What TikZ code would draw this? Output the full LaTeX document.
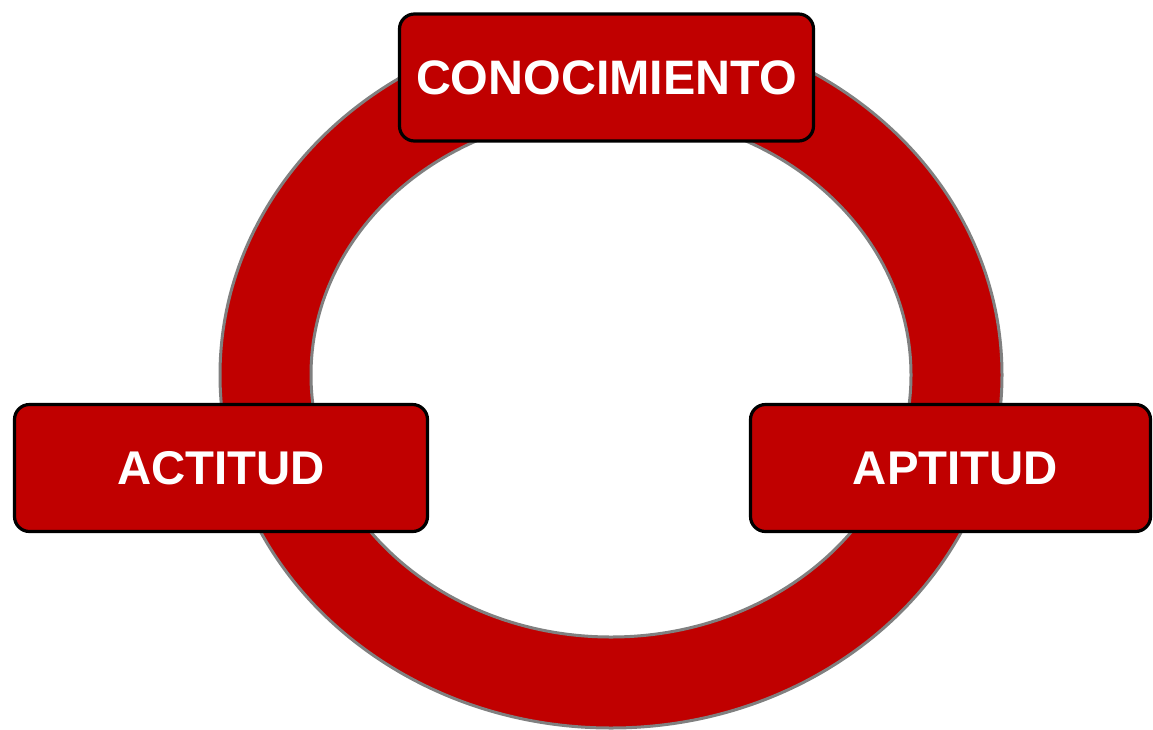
\documentclass[tikz,border=0pt]{standalone}
\usepackage{fontspec}
\setmainfont{Liberation Sans}
\definecolor{ringred}{RGB}{192,0,0}
\definecolor{ringgray}{RGB}{128,128,128}
\tikzset{
  labelbox/.style={draw=black, line width=2.4pt, fill=ringred, rounded corners=11.25pt,
    text=white, font=\fontsize{35.5}{40}\selectfont\bfseries,
    minimum height=95.25pt, inner sep=0pt}
}
\begin{document}
\begin{tikzpicture}[x=0.75pt,y=0.75pt,yscale=-1,xscale=1]
\useasboundingbox (0,0) rectangle (1153,729);

%Shape: Ring [id:ring]
\draw [draw=ringgray, fill=ringred, line width=2.25pt, even odd rule] (611,375) ellipse [x radius=391, y radius=353] (611,375) ellipse [x radius=300, y radius=262];

% Text Node
\node [labelbox, minimum width=310.5pt, font=\fontsize{36.3}{40}\selectfont\bfseries] (conocimiento) at (606.5,77.5) {CONOCIMIENTO};
% Text Node
\node [labelbox, minimum width=309.75pt] (actitud) at (221,468) {ACTITUD};
% Text Node
\node [labelbox, minimum width=300pt] (aptitud) at (950.5,468) {\hspace*{7.5pt}APTITUD};

\end{tikzpicture}
\end{document}
